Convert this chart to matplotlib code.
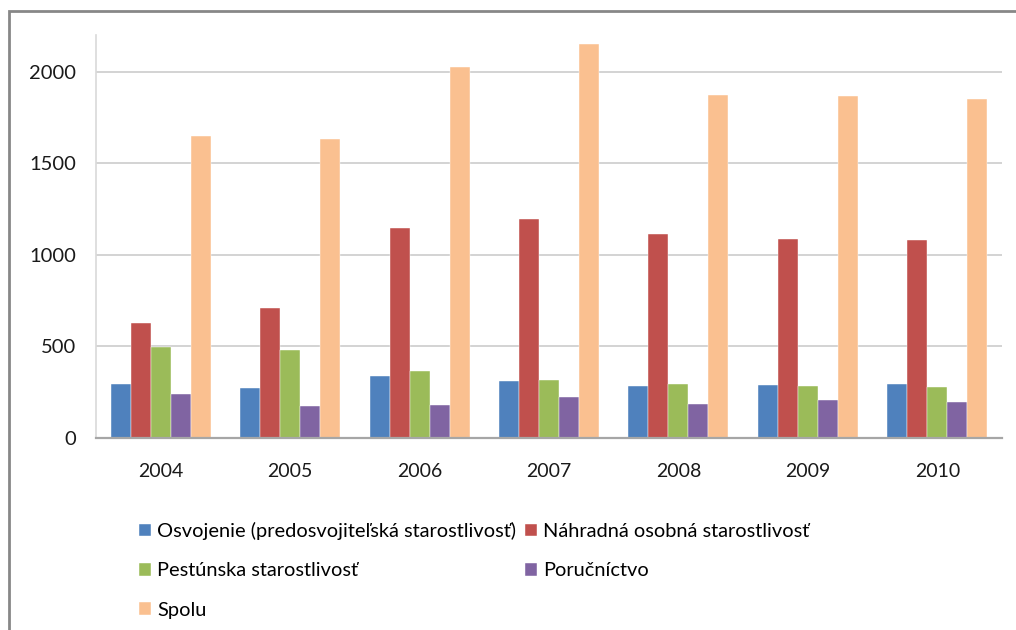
import numpy as np
import matplotlib
matplotlib.use("Agg")
import matplotlib.pyplot as plt
from matplotlib.patches import Rectangle

plt.rcParams['font.family'] = ['Lato', 'DejaVu Sans']

years = ["2004", "2005", "2006", "2007", "2008", "2009", "2010"]
series_names = [
    "Osvojenie (predosvojiteľská starostlivosť)",
    "Náhradná osobná starostlivosť",
    "Pestúnska starostlivosť",
    "Poručníctvo",
    "Spolu",
]
osvojenie = [292, 270, 337, 311, 281, 286, 292]
nahradna = [627, 707, 1144, 1195, 1111, 1087, 1082]
pestunska = [497, 479, 366, 315, 292, 281, 275]
porucnictvo = [237, 173, 179, 224, 184, 208, 195]
spolu = [1650, 1632, 2024, 2150, 1871, 1867, 1849]
colors = ["#4F81BD", "#C0504D", "#9BBB59", "#8064A2", "#FAC090"]

W, H = 1016, 630
fig = plt.figure(figsize=(W / 100, H / 100), dpi=100)

# outer chart frame (right/bottom edges fall outside the picture)
fig.patches.append(Rectangle((9 / W, -0.05), 1.1, 1 - 11 / H + 0.05,
                             transform=fig.transFigure, fill=False,
                             edgecolor="#878787", linewidth=2))

ax = fig.add_axes([96 / W, 1 - 437.7 / H, 906 / W, (437.7 - 35) / H])

data = [osvojenie, nahradna, pestunska, porucnictvo, spolu]
x = np.arange(len(years))
bw = 0.1545
bars = []
for i, vals in enumerate(data):
    b = ax.bar(x + (i - 2) * bw, vals, bw, color=colors[i], label=series_names[i],
               edgecolor="white", linewidth=0.3, zorder=3)
    bars.append(b)

ax.set_xlim(-0.5, len(years) - 0.5)
ax.set_ylim(0, 2200)
ax.set_yticks([0, 500, 1000, 1500, 2000])
ax.set_xticks(x)
ax.set_xticklabels(years)
ax.yaxis.grid(True, color="#d0d0d0", linewidth=1.3, zorder=0)
ax.set_axisbelow(True)

for s in ["top", "right"]:
    ax.spines[s].set_visible(False)
ax.spines["left"].set_color("#d9d9d9")
ax.spines["left"].set_linewidth(1.2)
ax.spines["bottom"].set_color("#a6a6a6")
ax.spines["bottom"].set_linewidth(1.6)
ax.spines["bottom"].set_zorder(4)

ax.tick_params(axis="y", length=0, pad=14.4, labelsize=14.5, labelcolor="#1a1a1a")
ax.tick_params(axis="x", length=0, pad=18.5, labelsize=14, labelcolor="#1a1a1a")

order = [0, 2, 4, 1, 3]
fig.legend([bars[i] for i in order], [series_names[i] for i in order],
           ncol=2, loc="upper left", bbox_to_anchor=(139 / W, 1 - 522 / H),
           frameon=False, fontsize=14.4, handlelength=0.6, handleheight=0.6,
           handletextpad=0.3, labelspacing=1.12, columnspacing=0.45,
           borderpad=0, borderaxespad=0)

fig.savefig("out.png", dpi=100)
